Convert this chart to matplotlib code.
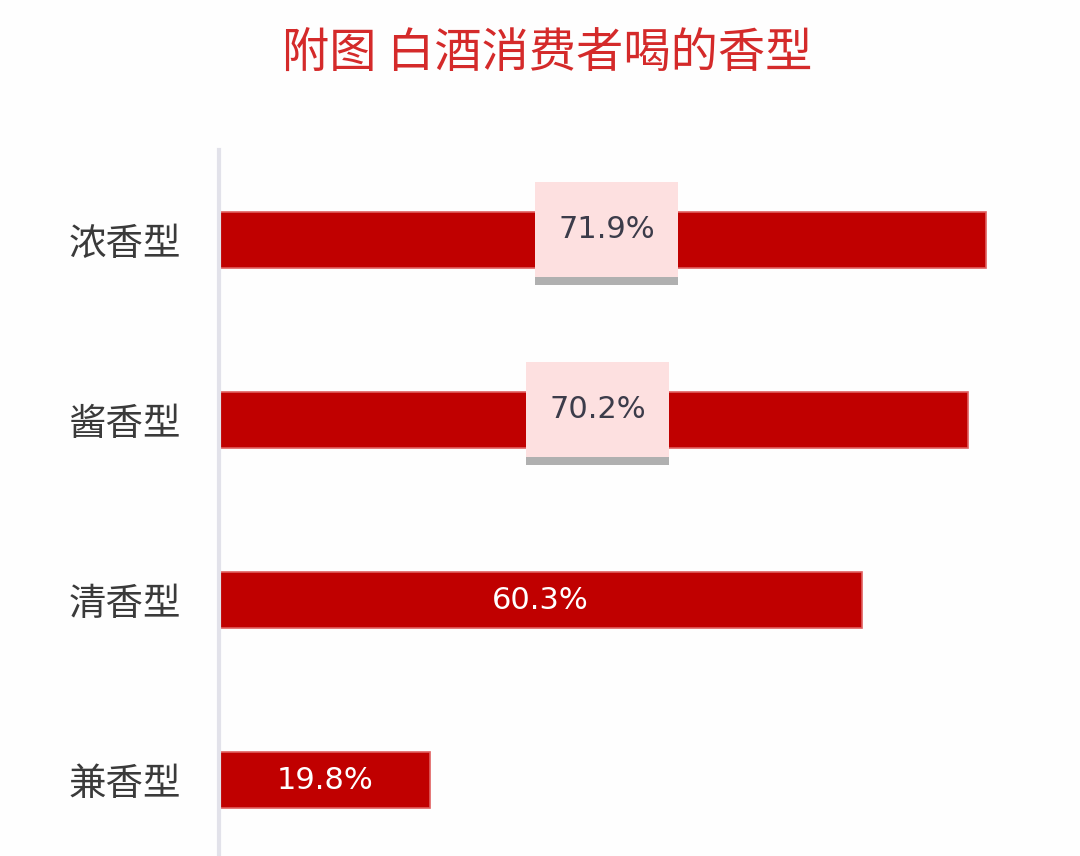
import matplotlib
matplotlib.use("Agg")
import matplotlib.pyplot as plt
import matplotlib.patheffects as pe
from matplotlib.patches import Rectangle

plt.rcParams['font.family'] = ['Noto Sans CJK SC', 'DejaVu Sans']

categories = ['浓香型', '酱香型', '清香型', '兼香型']
values = [71.9, 70.2, 60.3, 19.8]
labels = ['71.9%', '70.2%', '60.3%', '19.8%']
boxed = [True, True, False, False]

fig = plt.figure(figsize=(10.8, 8.56), dpi=100)
fig.patch.set_facecolor('#fefefe')
ax = fig.add_axes([219/1080, 0.0, (1060-219)/1080, (856-150)/856])
ax.set_facecolor('none')

ypos = list(range(len(categories)))
ax.barh(ypos, values, height=0.31, color='#c00000', edgecolor='#e06060', linewidth=1.2, zorder=2)
ax.set_xlim(0, (1060-219)/10.67)
ax.set_ylim(3.42, -0.5)

for s in ['top', 'right', 'bottom']:
    ax.spines[s].set_visible(False)
ax.spines['left'].set_color('#e2e2ea')
ax.spines['left'].set_linewidth(3)
ax.set_xticks([])
ax.set_yticks(ypos)
ax.set_yticklabels(categories, fontsize=27, color='#3a3a3a')
ax.tick_params(axis='y', length=0, pad=27)

box_w = 13.4
box_h = 0.53
for y, v, lab, b in zip(ypos, values, labels, boxed):
    if b:
        cx, cy = v/2 + 0.4, y - 0.06
        rect = Rectangle((cx - box_w/2, cy - box_h/2), box_w, box_h,
                         facecolor='#fde0e0', edgecolor='none', zorder=3,
                         path_effects=[pe.SimplePatchShadow(offset=(0, -6), shadow_rgbFace='#707070', alpha=0.55), pe.Normal()])
        ax.add_patch(rect)
        ax.text(cx, cy, lab, ha='center', va='center', fontsize=22,
                color='#3c3c4a', family=['DejaVu Sans'], zorder=4)
    else:
        ax.text(v/2, y, lab, ha='center', va='center', fontsize=22,
                color='white', family=['DejaVu Sans'], zorder=4)

fig.text(547/1080, 1 - 55/856, '附图 白酒消费者喝的香型', ha='center', va='center',
         fontsize=34, color='#d42a2a', fontweight='medium')

fig.savefig('out.png', dpi=100, facecolor=fig.get_facecolor())
